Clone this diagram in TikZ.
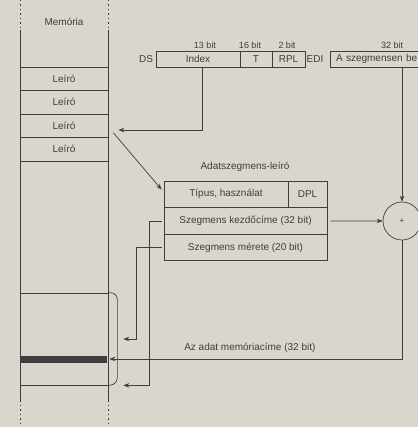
\documentclass[tikz,border=0pt]{standalone}
\usepackage{fontspec}
\setmainfont{Liberation Sans}
\usetikzlibrary{arrows.meta}
\definecolor{paper}{RGB}{218,214,206}
\definecolor{ink}{RGB}{64,62,60}
\tikzset{
  cell/.style={draw, minimum width=88pt, minimum height=23.5pt, inner sep=0pt},
  reg/.style={draw, minimum height=16pt, inner sep=0pt},
  field/.style={draw, minimum height=26.6pt, inner sep=0pt},
  arr/.style={-{Stealth[length=6pt,width=4.5pt]}},
  bits/.style={font=\fontsize{9}{10}\selectfont},
  dots/.style={dash pattern=on 1.5pt off 3pt},
}
\begin{document}
\begin{tikzpicture}[x=1pt, y=-1pt, color=ink, line width=0.7pt, font=\fontsize{10}{12}\selectfont]
\fill[paper] (0,0) rectangle (418,427);
\useasboundingbox (0,0) rectangle (418,427);
\clip (0,0) rectangle (418,427);
% memoria
\draw[dots] (20,0) -- (20,30);
\draw[dots] (108,0) -- (108,30);
\draw (20,30) -- (20,400);
\draw (108,30) -- (108,400);
\draw[dots] (20,400) -- (20,427);
\draw[dots] (108,400) -- (108,427);
\node (mem) at (64,22) {Memória};
\foreach \i/\y in {1/78.75, 2/102.25, 3/125.75, 4/149.25}
  \node[cell] (leiro\i) at (64,\y) {Leíró};
\node[draw, minimum width=88pt, minimum height=92pt, inner sep=0pt] (seg) at (64,339) {};
\node[fill, minimum width=87pt, minimum height=7pt, inner sep=0pt] (bar) at (63.5,359) {};
\draw[rounded corners=7pt] (seg.north east) -- ++(9,0) -- ++(0,92) -- (seg.south east);
% regiszterek
\node (ds) at (146,59) {DS};
\node[reg, minimum width=84pt] (idx) at (198,59) {Index};
\node[reg, minimum width=32pt] (t) at (256,59) {T};
\node[reg, minimum width=33pt] (rpl) at (288.5,59) {RPL};
\node (edilbl) at (315,59) {EDI};
\node[reg, text width=88pt, inner xsep=6pt, align=left] (edi) at (380,59) {A szegmensen be};
\node[bits] (b13) at (205,45) {13 bit};
\node[bits] (b16) at (250,45) {16 bit};
\node[bits] (b2) at (287,45) {2 bit};
\node[bits] (b32) at (392,45) {32 bit};
% szegmensleiro
\node (desctitle) at (245,167) {Adatszegmens-leíró};
\node[field, minimum width=124pt] (typ) at (226,194.3) {Típus, használat};
\node[field, minimum width=39pt] (dpl) at (307.5,194.3) {DPL};
\node[field, minimum width=163pt] (base) at (245.5,220.9) {Szegmens kezdőcíme (32 bit)};
\node[field, minimum width=163pt] (size) at (245.5,247.5) {Szegmens mérete (20 bit)};
\node[draw, circle, minimum size=38pt, inner sep=0pt, font=\fontsize{8}{9}\selectfont] (sum) at (402,221) {+};
% nyilak
\draw[arr] ([xshift=4pt]idx.south) |- ([shift={(10pt,-4.25pt)}]leiro3.east);
\draw[arr] ([shift={(5pt,-7pt)}]leiro3.east) -- ([shift={(-2pt,-9pt)}]typ.north west);
\draw[arr] (edi.south -| sum.north) -- (sum.north);
\draw[arr] ([xshift=3pt]base.east) -- (sum.west);
\draw[arr] ([xshift=-2pt]base.west) -- ++(-12,0) |- ([xshift=15pt]seg.south east);
\draw[arr] ([xshift=-2pt]size.west) -- ++(-25,0) |- ([xshift=15pt]seg.east);
\draw[arr] (sum.south) |- node[pos=0.76, above=3pt] (addr) {Az adat memóriacíme (32 bit)} ([xshift=2pt]bar.east);
\end{tikzpicture}
\end{document}
